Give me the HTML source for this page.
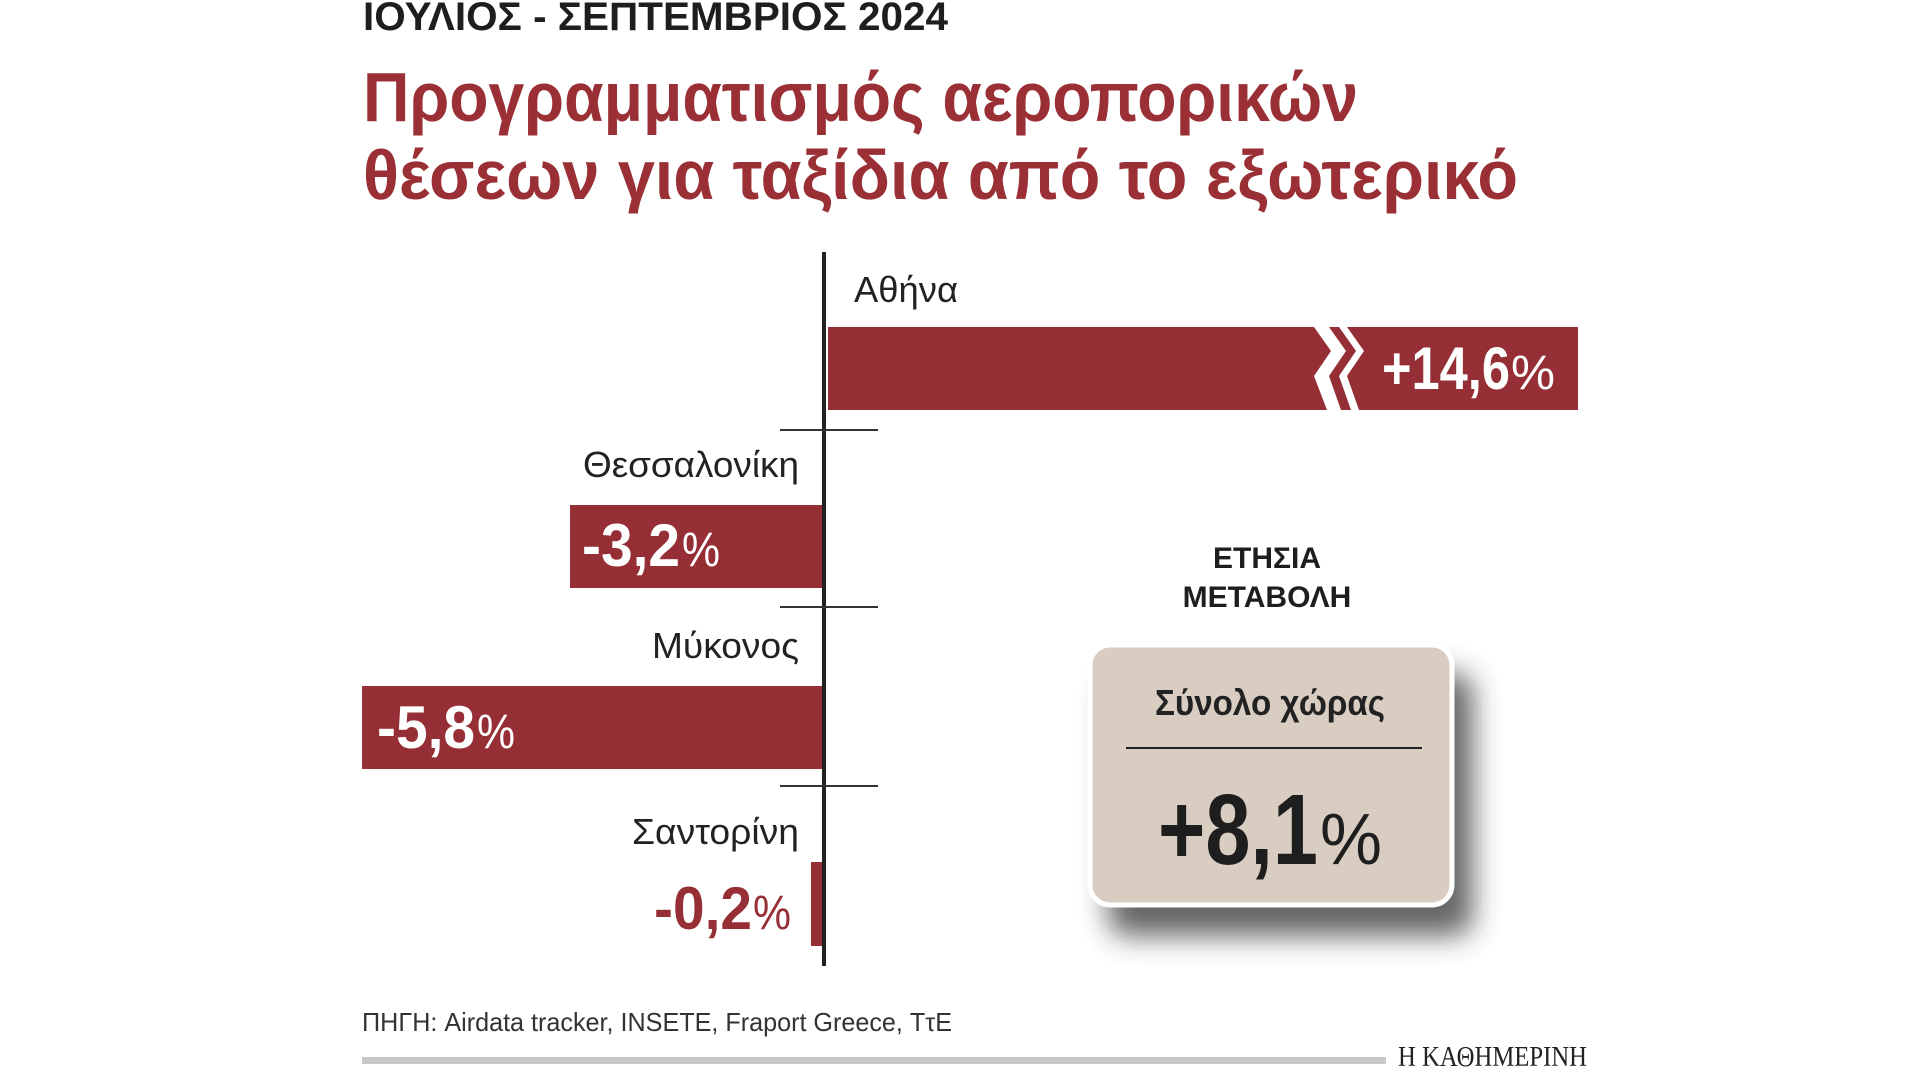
<!DOCTYPE html>
<html><head><meta charset="utf-8"><style>
html,body{margin:0;padding:0;background:#fff;width:1920px;height:1080px;overflow:hidden}
svg{display:block}
</style></head><body>
<svg width="1920" height="1080" viewBox="0 0 1920 1080" xmlns="http://www.w3.org/2000/svg" font-family="'Liberation Sans', 'DejaVu Sans', sans-serif">
<defs>
<filter id="sh" x="-30%" y="-30%" width="170%" height="170%">
<feGaussianBlur stdDeviation="14"/>
</filter>
</defs>
<text x="363" y="30" font-size="40" font-weight="bold" fill="#1e1e1e" textLength="585" lengthAdjust="spacingAndGlyphs">ΙΟΥΛΙΟΣ - ΣΕΠΤΕΜΒΡΙΟΣ 2024</text>
<text x="363" y="121" font-size="70" font-weight="bold" fill="#9a2f35" textLength="995" lengthAdjust="spacingAndGlyphs">Προγραμματισμός αεροπορικών</text>
<text x="363" y="199" font-size="70" font-weight="bold" fill="#9a2f35" textLength="1155" lengthAdjust="spacingAndGlyphs">θέσεων  για ταξίδια από το εξωτερικό</text>

<rect x="828" y="327" width="750" height="83" fill="#962f35"/>
<polygon points="1314,327 1329,327 1346,351 1329,376 1341,410 1327,410 1314,376 1331,351" fill="#fff"/>
<polygon points="1339,327 1347,327 1364,351 1347,376 1359,410 1351,410 1339,376 1356,351" fill="#fff"/>
<text x="1382" y="389" font-size="60" font-weight="bold" fill="#fff" textLength="128" lengthAdjust="spacingAndGlyphs">+14,6</text>
<text x="1511" y="389" font-size="48" fill="#fff" textLength="44" lengthAdjust="spacingAndGlyphs">%</text>

<rect x="570" y="505" width="256" height="83" fill="#962f35"/>
<text x="582" y="566" font-size="60" font-weight="bold" fill="#fff" textLength="98" lengthAdjust="spacingAndGlyphs">-3,2</text>
<text x="682" y="566" font-size="48" fill="#fff" textLength="38" lengthAdjust="spacingAndGlyphs">%</text>

<rect x="362" y="686" width="464" height="83" fill="#962f35"/>
<text x="377" y="748" font-size="60" font-weight="bold" fill="#fff" textLength="98" lengthAdjust="spacingAndGlyphs">-5,8</text>
<text x="477" y="748" font-size="48" fill="#fff" textLength="38" lengthAdjust="spacingAndGlyphs">%</text>

<rect x="811" y="862" width="15" height="84" fill="#962f35"/>
<text x="654" y="929" font-size="60" font-weight="bold" fill="#962f35" textLength="98" lengthAdjust="spacingAndGlyphs">-0,2</text>
<text x="753" y="929" font-size="48" fill="#962f35" textLength="38" lengthAdjust="spacingAndGlyphs">%</text>

<rect x="822" y="252" width="4" height="714" fill="#222"/>
<rect x="780" y="429" width="98" height="2" fill="#333"/>
<rect x="780" y="606" width="98" height="2" fill="#333"/>
<rect x="780" y="785" width="98" height="2" fill="#333"/>

<text x="854" y="302" font-size="36" fill="#222" textLength="104" lengthAdjust="spacingAndGlyphs">Αθήνα</text>
<text x="799" y="477" font-size="36" fill="#222" text-anchor="end" textLength="216" lengthAdjust="spacingAndGlyphs">Θεσσαλονίκη</text>
<text x="799" y="658" font-size="36" fill="#222" text-anchor="end" textLength="147" lengthAdjust="spacingAndGlyphs">Μύκονος</text>
<text x="799" y="844" font-size="36" fill="#222" text-anchor="end" textLength="167" lengthAdjust="spacingAndGlyphs">Σαντορίνη</text>

<text x="1267" y="568" font-size="30" font-weight="bold" fill="#1e1e1e" text-anchor="middle">ΕΤΗΣΙΑ</text>
<text x="1267" y="607" font-size="30" font-weight="bold" fill="#1e1e1e" text-anchor="middle">ΜΕΤΑΒΟΛΗ</text>

<rect x="1108" y="673" width="365" height="263" rx="20" fill="#333" opacity="0.75" filter="url(#sh)"/>
<rect x="1090" y="645" width="362" height="260" rx="20" fill="#d9cdc1" stroke="#fff" stroke-width="5"/>
<text x="1270" y="715" font-size="36" font-weight="bold" fill="#222" text-anchor="middle" textLength="230" lengthAdjust="spacingAndGlyphs">Σύνολο χώρας</text>
<rect x="1126" y="747" width="296" height="2" fill="#222"/>
<text x="1158" y="864" font-size="100" font-weight="bold" fill="#1e1e1e" textLength="160" lengthAdjust="spacingAndGlyphs">+8,1</text>
<text x="1320" y="864" font-size="72" fill="#1e1e1e" textLength="62" lengthAdjust="spacingAndGlyphs">%</text>

<text x="362" y="1031" font-size="26" fill="#333" textLength="590" lengthAdjust="spacingAndGlyphs">ΠΗΓΗ: Airdata tracker, INSETE, Fraport Greece, ΤτΕ</text>
<rect x="362" y="1057" width="1024" height="7" fill="#c8c8c8"/>
<text x="1398" y="1066" font-size="28" font-family="'Liberation Serif', serif" fill="#222" textLength="189" lengthAdjust="spacingAndGlyphs">Η ΚΑΘΗΜΕΡΙΝΗ</text>
</svg>
</body></html>
